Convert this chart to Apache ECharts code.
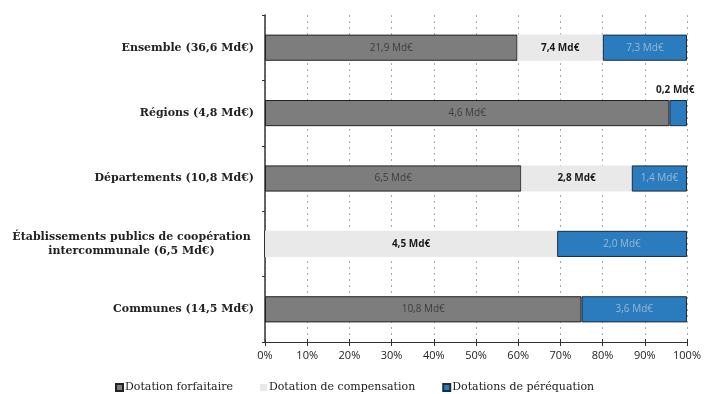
<!DOCTYPE html>
<html>
<head>
<meta charset="utf-8">
<script src="https://cdn.jsdelivr.net/npm/echarts@6/dist/echarts.min.js"></script>
<style>
  html, body { margin: 0; padding: 0; background: #fff; }
  #chart { width: 711px; height: 394px; }
</style>
</head>
<body>
<div id="chart"></div>
<script>
// Groupes de collectivités (de haut en bas)
const categories = [
  'Ensemble (36,6 Md€)',
  'Régions (4,8 Md€)',
  'Départements (10,8 Md€)',
  'Établissements publics de coopération\nintercommunale (6,5 Md€)',
  'Communes (14,5 Md€)'
];
// Montants en milliards d'euros
const forfaitaire  = [21.9, 4.6, 6.5, 0, 10.8];
const compensation = [7.4, 0, 2.8, 4.5, 0];
const perequation  = [7.3, 0.2, 1.4, 2.0, 3.6];
const seriesNames = ['Dotation forfaitaire', 'Dotation de compensation', 'Dotations de péréquation'];
const xTicks = [0, 10, 20, 30, 40, 50, 60, 70, 80, 90, 100];

const totals = categories.map((_, i) => forfaitaire[i] + compensation[i] + perequation[i]);
const fmt = v => v.toFixed(1).replace('.', ',') + ' Md€';

// ECharts draws categories bottom-up: reverse so Ensemble is on top
const order = categories.map((_, i) => i).reverse();
const cats = order.map(i => categories[i]);

function shares(arr) {
  return order.map(i => ({ value: arr[i] / totals[i] * 100, raw: arr[i] }));
}

const serif = 'DejaVu Serif';
const sans = 'Open Sans';

function barSeries(name, arr, color, border, labelColor, labelWeight) {
  return {
    name: name,
    type: 'bar',
    stack: 'total',
    barWidth: '40%',
    data: shares(arr),
    itemStyle: { color: color, borderColor: border, borderWidth: border ? 1 : 0 },
    label: {
      show: true,
      position: 'inside',
      fontFamily: sans,
      fontSize: 10,
      fontWeight: labelWeight,
      color: labelColor,
      formatter: p => p.data.raw ? fmt(p.data.raw) : ''
    }
  };
}

const sPereq = barSeries(seriesNames[2], perequation, '#2b7cbf', '#1d2b3a', '#9ab8cf', 'normal');
// Small slice for Régions: label sits above the bar
sPereq.data = sPereq.data.map((d, k) => {
  const i = order[k];
  if (i === 1) {
    return Object.assign({}, d, {
      label: { position: 'top', offset: [-3, 0], color: '#222', fontWeight: 'bold' }
    });
  }
  return d;
});

const option = {
  animation: false,
  backgroundColor: '#fff',
  grid: { left: 265, right: 24, top: 15, bottom: 52 },
  legend: {
    left: 110,
    top: 377,
    itemWidth: 7,
    itemHeight: 7,
    itemGap: 27,
    icon: 'rect',
    textStyle: { fontFamily: serif, fontSize: 11, color: '#222', padding: [0, 0, 0, -3] },
    data: seriesNames
  },
  xAxis: [{
    type: 'value',
    min: 0,
    max: 100,
    interval: 10,
    axisLine: { show: true, lineStyle: { color: '#333', width: 1 } },
    axisTick: { show: true, length: 4, lineStyle: { color: '#333' } },
    axisLabel: {
      fontFamily: sans, fontSize: 11, color: '#222', margin: 8,
      formatter: v => xTicks.includes(v) ? v + '%' : ''
    },
    splitLine: { show: true, lineStyle: { color: '#aaa', type: [2, 4], width: 1 } }
  }, {
    // ticks crossing above the axis line
    type: 'value',
    position: 'bottom',
    min: 0,
    max: 100,
    interval: 10,
    axisLine: { show: false },
    axisTick: { show: true, inside: true, length: 3, lineStyle: { color: '#333' } },
    axisLabel: { show: false },
    splitLine: { show: false }
  }],
  yAxis: {
    type: 'category',
    data: cats,
    axisLine: { show: true, lineStyle: { color: '#333', width: 1.5 } },
    axisTick: { show: true, length: 3, lineStyle: { color: '#333' } },
    axisLabel: {
      margin: 11,
      fontFamily: serif,
      fontSize: 11,
      fontWeight: 'bold',
      color: '#222',
      formatter: v => v.indexOf('\n') >= 0 ? v.split('\n').map(s => '{c|' + s + '}').join('\n') : v,
      rich: {
        c: { fontFamily: serif, fontSize: 11, fontWeight: 'bold', color: '#222', width: 245, align: 'center', lineHeight: 14 }
      }
    }
  },
  series: [
    barSeries(seriesNames[0], forfaitaire, '#7d7d7d', '#222', '#3c3c3c', 'normal'),
    barSeries(seriesNames[1], compensation, '#e9e9e9', null, '#1a1a1a', 'bold'),
    sPereq
  ]
};

const chart = echarts.init(document.getElementById('chart'), null, { renderer: 'canvas' });
chart.setOption(option);
</script>
</body>
</html>
